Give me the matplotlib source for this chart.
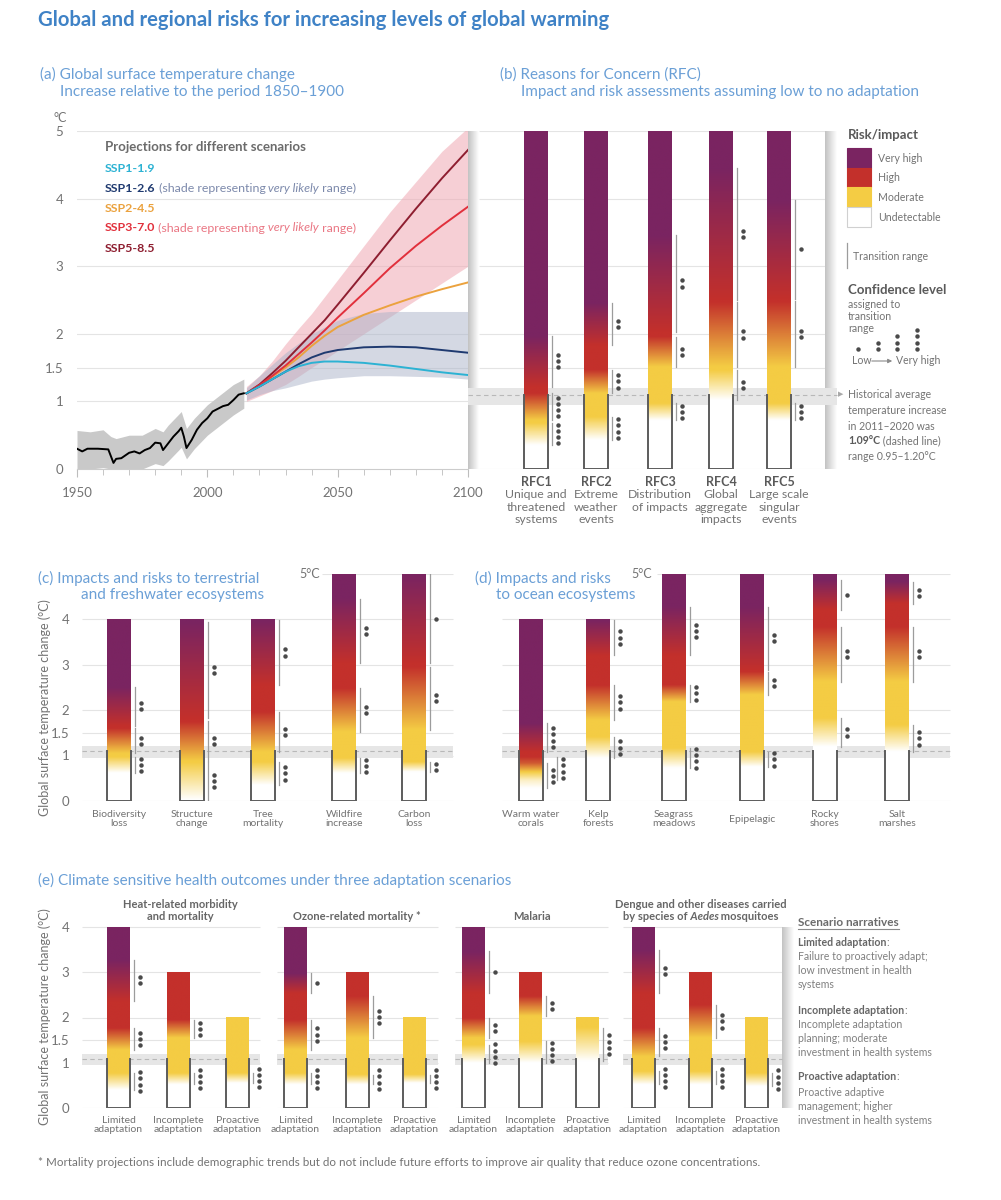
import numpy as np
import matplotlib
matplotlib.use('Agg')
import matplotlib.pyplot as plt
from matplotlib.colors import LinearSegmentedColormap
from matplotlib.patches import Rectangle

plt.rcParams['font.family'] = ['Lato', 'DejaVu Sans']

# ---- data: panel (a) ----
years_hist = [1950, 1952, 1954, 1958, 1962, 1964, 1965, 1967, 1970, 1972, 1974, 1976, 1978,
              1980, 1982, 1983, 1985, 1987, 1989, 1990, 1991, 1992, 1994, 1996, 1998, 2000,
              2002, 2004, 2006, 2008, 2010, 2012, 2014]
temp_hist = [0.30, 0.26, 0.30, 0.30, 0.29, 0.09, 0.15, 0.16, 0.24, 0.26, 0.23, 0.28, 0.31,
             0.39, 0.38, 0.28, 0.38, 0.48, 0.56, 0.61, 0.48, 0.31, 0.43, 0.58, 0.68, 0.75,
             0.85, 0.89, 0.93, 0.95, 1.02, 1.10, 1.12]
band_years = [1950, 1955, 1960, 1963, 1965, 1970, 1975, 1980, 1983, 1985, 1990, 1992, 1995,
              2000, 2005, 2010, 2014]
band_lo = [0.0, 0.0, 0.02, 0.0, 0.0, 0.0, 0.0, 0.08, 0.05, 0.12, 0.32, 0.15, 0.30,
           0.50, 0.65, 0.80, 0.90]
band_hi = [0.57, 0.55, 0.58, 0.48, 0.45, 0.50, 0.50, 0.60, 0.55, 0.65, 0.85, 0.60, 0.75,
           0.95, 1.10, 1.25, 1.33]

proj_years = [2015, 2020, 2025, 2030, 2035, 2040, 2045, 2050, 2060, 2070, 2080, 2090, 2100]
ssp119 = [1.12, 1.22, 1.33, 1.44, 1.52, 1.57, 1.59, 1.59, 1.57, 1.53, 1.48, 1.43, 1.39]
ssp126 = [1.12, 1.22, 1.33, 1.44, 1.55, 1.65, 1.72, 1.76, 1.80, 1.81, 1.80, 1.76, 1.72]
ssp245 = [1.12, 1.23, 1.37, 1.50, 1.65, 1.82, 1.97, 2.10, 2.28, 2.42, 2.55, 2.66, 2.76]
ssp370 = [1.12, 1.24, 1.38, 1.53, 1.70, 1.87, 2.05, 2.24, 2.60, 2.97, 3.30, 3.60, 3.88]
ssp585 = [1.12, 1.25, 1.42, 1.60, 1.80, 2.00, 2.20, 2.43, 2.90, 3.38, 3.85, 4.30, 4.72]
ssp126_lo = [1.02, 1.10, 1.16, 1.20, 1.25, 1.30, 1.33, 1.35, 1.38, 1.38, 1.37, 1.36, 1.33]
ssp126_hi = [1.20, 1.38, 1.55, 1.72, 1.86, 2.00, 2.10, 2.20, 2.30, 2.33, 2.33, 2.33, 2.33]
ssp370_lo = [1.00, 1.08, 1.16, 1.25, 1.37, 1.50, 1.62, 1.75, 2.00, 2.25, 2.50, 2.75, 3.00]
ssp370_hi = [1.22, 1.38, 1.60, 1.85, 2.08, 2.30, 2.55, 2.80, 3.30, 3.80, 4.25, 4.70, 5.05]

# ---- data: embers, transitions are (low, high, confidence dots) ----
rfc_names = ['RFC1', 'RFC2', 'RFC3', 'RFC4', 'RFC5']
rfc_labels = [['Unique and', 'threatened', 'systems'], ['Extreme', 'weather', 'events'],
              ['Distribution', 'of impacts'], ['Global', 'aggregate', 'impacts'],
              ['Large scale', 'singular', 'events']]
rfc_trans = [[(0.35, 0.68, 4), (0.72, 1.12, 4), (1.22, 1.97, 3)],
             [(0.43, 0.77, 4), (1.12, 1.47, 3), (1.83, 2.46, 2)],
             [(0.72, 0.97, 3), (1.51, 1.96, 2), (2.03, 3.46, 2)],
             [(1.02, 1.46, 2), (1.51, 2.47, 2), (2.50, 4.45, 2)],
             [(0.72, 0.97, 3), (1.51, 2.48, 2), (2.52, 3.98, 1)]]

terr_labels = ['Biodiversity\nloss', 'Structure\nchange', 'Tree\nmortality',
               'Wildfire\nincrease', 'Carbon\nloss']
terr_tops = [4, 4, 4, 5, 5]
terr_trans = [[(0.62, 0.97, 3), (1.05, 1.60, 2), (1.65, 2.51, 2)],
              [(0.02, 0.85, 3), (0.88, 1.75, 2), (1.82, 3.94, 2)],
              [(0.35, 0.86, 3), (1.08, 1.96, 2), (2.55, 3.98, 2)],
              [(0.61, 0.94, 3), (1.52, 2.48, 2), (3.03, 4.45, 2)],
              [(0.64, 0.86, 2), (1.56, 2.95, 2), (3.03, 4.98, 1)]]

ocean_labels = ['Warm water\ncorals', 'Kelp\nforests', 'Seagrass\nmeadows', 'Epipelagic',
                'Rocky\nshores', 'Salt\nmarshes']
ocean_tops = [4, 4, 5, 5, 5, 5]
ocean_trans = [[(0.28, 0.83, 3), (0.46, 0.97, 4), (1.08, 1.71, 4)],
               [(0.94, 1.41, 3), (1.78, 2.55, 3), (3.20, 3.98, 3)],
               [(0.72, 1.16, 4), (2.18, 2.55, 3), (3.20, 4.27, 3)],
               [(0.75, 1.08, 3), (2.33, 2.84, 2), (2.88, 4.27, 2)],
               [(1.19, 1.82, 2), (2.62, 3.83, 2), (4.20, 4.86, 1)],
               [(1.08, 1.67, 3), (2.62, 3.83, 2), (4.34, 4.82, 2)]]

health_titles = [['Heat-related morbidity', 'and mortality'], ['Ozone-related mortality *'],
                 ['Malaria'], ['Dengue and other diseases carried', 'by species of Aedes mosquitoes']]
health_scen = ['Limited\nadaptation', 'Incomplete\nadaptation', 'Proactive\nadaptation']
health_tops = [4, 3, 2]
health_trans = [
    [[(0.40, 0.77, 4), (1.29, 1.77, 3), (2.36, 3.28, 2)],
     [(0.52, 0.77, 4), (1.55, 1.95, 3)],
     [(0.55, 0.77, 4)]],
    [[(0.52, 0.77, 4), (1.29, 1.95, 3), (2.54, 2.98, 1)],
     [(0.52, 0.74, 4), (1.55, 2.47, 3)],
     [(0.55, 0.74, 4)]],
    [[(1.00, 1.40, 4), (1.55, 1.99, 2), (2.54, 3.46, 1)],
     [(1.00, 1.47, 4), (2.03, 2.47, 2)],
     [(1.03, 1.77, 4)]],
    [[(0.52, 0.81, 4), (1.14, 1.77, 3), (2.54, 3.50, 2)],
     [(0.52, 0.81, 4), (1.55, 2.28, 3)],
     [(0.48, 0.77, 4)]],
]
hist_mean, hist_lo, hist_hi = 1.09, 0.95, 1.20

# ---- layout (figure pixels) ----
W, H = 1001, 1200
rfc_x = [524, 584, 648, 709, 767]
terr_x = [107, 180, 251, 332, 402]
ocean_x = [519, 586, 662, 740, 813, 885]
health_groups = [(82, 260, [107, 167, 226]), (277, 438, [284, 346, 403]),
                 (455, 608, [462, 519, 576]), (623, 782, [632, 689, 745])]

TITLE = '#3f82c6'
PANEL = '#6a9fd6'
GRID = '#e4e4e4'
GREY = '#737373'
DARK = '#5a5a5a'
VH, HI, MO = '#7a2461', '#c3302b', '#f4cc44'
EMBER = LinearSegmentedColormap.from_list('ember', ['white', MO, HI, VH])
SHADE = LinearSegmentedColormap.from_list('shade', ['white', '#c2c2c2'])

PT = 11          # panel titles
LAB = 7.5        # ember labels
SM = 7.6         # legend / narrative text

fig = plt.figure(figsize=(W / 100, H / 100), dpi=100)
rend = fig.canvas.get_renderer()


def box(l, t, r, b):
    return [l / W, 1 - b / H, (r - l) / W, (b - t) / H]


def txt(x, y, s, **kw):
    kw.setdefault('va', 'center')
    return fig.text(x / W, 1 - y / H, s, **kw)


def runs(x, y, parts, **common):
    for s, kw in parts:
        t = txt(x, y, s, **{**common, **kw})
        x += t.get_window_extent(rend).width
    return x


def shadow(ax, x0, x1, y0, y1):
    g = np.linspace(1, 0, 60)[None, :]
    ax.imshow(g, extent=[x0, x1, y0, y1], cmap=SHADE, vmin=0, vmax=1,
              aspect='auto', origin='lower', zorder=0.5)


def hist_band(ax, x0, x1):
    ax.fill_between([x0, x1], hist_lo, hist_hi, color='#e6e6e6', lw=0, zorder=1)
    ax.hlines(hist_mean, x0, x1, colors='#b8b8b8', linestyles=(0, (4, 3)), lw=0.8, zorder=1.5)


def ember(ax, xl, top, trans, ppd, width=24):
    xr = xl + width
    t = np.linspace(0, top, 600)
    lev = np.zeros_like(t)
    for lo, hi, n in trans:
        lev += np.clip((t - lo) / (hi - lo), 0, 1)
    ax.imshow(lev[:, None], extent=[xl, xr, 0, top], origin='lower', aspect='auto',
              cmap=EMBER, vmin=0, vmax=3, interpolation='bilinear', zorder=3)
    ax.plot([xl, xl, xr, xr], [hist_mean, 0, 0, hist_mean], color='#5c5c5c', lw=1.4,
            zorder=4, solid_joinstyle='miter')
    prev = -1
    for lo, hi, n in trans:
        off = 10 if lo < prev else 0
        prev = hi
        hc = min(hi, top)
        lx = xr + 4 + off
        ax.plot([lx, lx], [lo, hc], color='#9c9c9c', lw=0.9, zorder=4)
        ys = (lo + hc) / 2 + (np.arange(n) - (n - 1) / 2) * 6.2 / ppd
        ax.plot([lx + 5.5] * n, ys, 'o', ms=3.2, color='#4a4a4a', mec='none', zorder=5)


# ---- title ----
txt(38, 20, 'Global and regional risks for increasing levels of global warming',
    fontsize=14.6, fontweight='bold', color=TITLE)

# ---- panel (a) ----
txt(40, 74, '(a) Global surface temperature change', fontsize=PT, color=PANEL)
txt(60, 92, 'Increase relative to the period 1850–1900', fontsize=PT, color=PANEL)
txt(67, 118, '°C', ha='right', fontsize=9, color=GREY)

ax_a = fig.add_axes(box(77, 131, 468, 469))
for v in [1, 1.5, 2, 3, 4, 5]:
    ax_a.axhline(v, color=GRID, lw=0.8, zorder=0)
ax_a.fill_between(band_years, band_lo, band_hi, color='#c9c9c9', lw=0, zorder=1)
ax_a.plot(years_hist, temp_hist, color='black', lw=1.4, zorder=3)
ax_a.fill_between(proj_years, ssp370_lo, ssp370_hi, color='#f0a9b3', alpha=0.55, lw=0, zorder=1)
ax_a.fill_between(proj_years, ssp126_lo, ssp126_hi, color='#aab3c9', alpha=0.5, lw=0, zorder=1)
ssp_cols = {'SSP1-1.9': '#2cb2d3', 'SSP1-2.6': '#1f3a70', 'SSP2-4.5': '#eba23e',
            'SSP3-7.0': '#e1303c', 'SSP5-8.5': '#8e1e30'}
for key, vals in [('SSP2-4.5', ssp245), ('SSP5-8.5', ssp585), ('SSP3-7.0', ssp370),
                  ('SSP1-2.6', ssp126), ('SSP1-1.9', ssp119)]:
    ax_a.plot(proj_years, vals, color=ssp_cols[key], lw=1.4, zorder=3)
ax_a.set_xlim(1950, 2100)
ax_a.set_ylim(0, 5)
for s in ['top', 'right', 'left']:
    ax_a.spines[s].set_visible(False)
ax_a.spines['bottom'].set_color('#cccccc')
ax_a.set_yticks([0, 1, 1.5, 2, 3, 4, 5])
ax_a.set_yticklabels(['0', '1', '1.5', '2', '3', '4', '5'])
ax_a.tick_params(axis='y', length=0, pad=10, labelsize=9.5, labelcolor=GREY)
ax_a.set_xticks([1950, 2000, 2050, 2100])
ax_a.set_xticks(range(1950, 2101, 10), minor=True)
ax_a.tick_params(axis='x', which='both', color='#bdbdbd', labelsize=9.5, labelcolor=GREY, pad=7)
ax_a.tick_params(axis='x', which='major', length=6)
ax_a.tick_params(axis='x', which='minor', length=4)
ax_a.patch.set_alpha(0)

txt(105, 147, 'Projections for different scenarios', fontsize=9.5, fontweight='bold', color='#6b6b6b')
lkw = dict(fontsize=8.9)
txt(105, 168, 'SSP1-1.9', fontweight='bold', color=ssp_cols['SSP1-1.9'], **lkw)
runs(105, 188, [('SSP1-2.6', dict(fontweight='bold', color=ssp_cols['SSP1-2.6'])),
                (' (shade representing', dict(color='#7c89ab')),
                (' very likely', dict(color='#7c89ab', style='italic')),
                (' range)', dict(color='#7c89ab'))], **lkw)
txt(105, 208, 'SSP2-4.5', fontweight='bold', color=ssp_cols['SSP2-4.5'], **lkw)
runs(105, 228, [('SSP3-7.0', dict(fontweight='bold', color=ssp_cols['SSP3-7.0'])),
                (' (shade representing', dict(color='#ea7784')),
                (' very likely', dict(color='#ea7784', style='italic')),
                (' range)', dict(color='#ea7784'))], **lkw)
txt(105, 248, 'SSP5-8.5', fontweight='bold', color=ssp_cols['SSP5-8.5'], **lkw)

# ---- panel (b) ----
txt(500, 75, '(b) Reasons for Concern (RFC)', fontsize=PT, color=PANEL)
txt(521, 92, 'Impact and risk assessments assuming low to no adaptation', fontsize=PT, color=PANEL)
ax_b = fig.add_axes(box(468, 131, 845, 469))
ax_b.axis('off')
shadow(ax_b, 468, 479, 0, 5)
shadow(ax_b, 825, 837, 0, 5)
ax_b.hlines([0, 1, 1.5, 2, 3, 4, 5], 479, 825, colors=GRID, lw=0.8, zorder=0)
hist_band(ax_b, 468, 837)
for i, xl in enumerate(rfc_x):
    ember(ax_b, xl, 5, rfc_trans[i], 67.6)
    txt(xl + 12, 482, rfc_names[i], ha='center', fontsize=9, fontweight='bold', color=DARK)
    for j, line in enumerate(rfc_labels[i]):
        txt(xl + 12, 495 + 12.3 * j, line, ha='center', fontsize=8.8, color=GREY)
ax_b.set_xlim(468, 845)
ax_b.set_ylim(0, 5)

# ---- panel (c) ----
txt(38, 578, '(c) Impacts and risks to terrestrial', fontsize=PT, color=PANEL)
txt(81, 595, 'and freshwater ecosystems', fontsize=PT, color=PANEL)
txt(45, 708, 'Global surface temperature change (°C)', rotation=90, ha='center',
    fontsize=9, color=GREY)
ax_c = fig.add_axes(box(82, 573.5, 455, 801))
for s in ax_c.spines.values():
    s.set_visible(False)
ax_c.set_xticks([])
ax_c.set_yticks([0, 1, 1.5, 2, 3, 4])
ax_c.set_yticklabels(['0', '1', '1.5', '2', '3', '4'])
ax_c.tick_params(axis='y', length=0, pad=9, labelsize=9.5, labelcolor=GREY)
ax_c.hlines([0, 1, 1.5, 2, 3, 4], 82, 453, colors=GRID, lw=0.8, zorder=0)
ax_c.hlines(5, 322, 453, colors=GRID, lw=0.8, zorder=0)
hist_band(ax_c, 82, 453)
for i, xl in enumerate(terr_x):
    ember(ax_c, xl, terr_tops[i], terr_trans[i], 45.5)
    txt(xl + 12, 819, terr_labels[i], ha='center', fontsize=LAB, color=GREY, linespacing=1.1)
ax_c.set_xlim(82, 455)
ax_c.set_ylim(0, 5)
ax_c.patch.set_alpha(0)
txt(320, 574, '5°C', ha='right', fontsize=9, color=GREY)

# ---- panel (d) ----
txt(475, 578, '(d) Impacts and risks', fontsize=PT, color=PANEL)
txt(496, 595, 'to ocean ecosystems', fontsize=PT, color=PANEL)
ax_d = fig.add_axes(box(500, 573.5, 952, 801))
ax_d.axis('off')
ax_d.hlines([0, 1, 1.5, 2, 3, 4], 502, 950, colors=GRID, lw=0.8, zorder=0)
ax_d.hlines(5, 657, 950, colors=GRID, lw=0.8, zorder=0)
hist_band(ax_d, 502, 950)
for i, xl in enumerate(ocean_x):
    ember(ax_d, xl, ocean_tops[i], ocean_trans[i], 45.5)
    txt(xl + 12, 819, ocean_labels[i], ha='center', fontsize=LAB, color=GREY, linespacing=1.1)
ax_d.set_xlim(500, 952)
ax_d.set_ylim(0, 5)
txt(652, 574, '5°C', ha='right', fontsize=9, color=GREY)

# ---- panel (e) ----
txt(38, 880, '(e) Climate sensitive health outcomes under three adaptation scenarios',
    fontsize=PT, color=PANEL)
txt(45, 1017, 'Global surface temperature change (°C)', rotation=90, ha='center',
    fontsize=9, color=GREY)
ax_e = fig.add_axes(box(82, 1108 - 4.2 * 45.25, 800, 1108))
for s in ax_e.spines.values():
    s.set_visible(False)
ax_e.set_xticks([])
ax_e.set_yticks([0, 1, 1.5, 2, 3, 4])
ax_e.set_yticklabels(['0', '1', '1.5', '2', '3', '4'])
ax_e.tick_params(axis='y', length=0, pad=9, labelsize=9.5, labelcolor=GREY)
shadow(ax_e, 782, 794, 0, 4)
for g, (gl, gr, xs) in enumerate(health_groups):
    ax_e.hlines([0, 1, 1.5, 2, 3, 4], gl, gr, colors=GRID, lw=0.8, zorder=0)
    hist_band(ax_e, gl, gr)
    for k, xl in enumerate(xs):
        ember(ax_e, xl, health_tops[k], health_trans[g][k], 45.25, width=23)
        txt(xl + 11.5, 1125, health_scen[k], ha='center', fontsize=LAB, color=GREY, linespacing=1.0)
ax_e.set_xlim(82, 800)
ax_e.set_ylim(0, 4.2)
ax_e.patch.set_alpha(0)

tkw = dict(fontsize=8, fontweight='bold', color='#666666', ha='center')
txt(180, 905, health_titles[0][0], **tkw)
txt(180, 917, health_titles[0][1], **tkw)
txt(357, 917, health_titles[1][0], **tkw)
txt(532, 917, health_titles[2][0], **tkw)
txt(701, 905, health_titles[3][0], **tkw)
# second dengue line with italic genus name, centred by measuring
pieces = [('by species of', {}), (' Aedes', dict(style='italic')), (' mosquitoes', {})]
tmp = [fig.text(0, 0, s, fontsize=8, fontweight='bold', **kw) for s, kw in pieces]
wsum = sum(t.get_window_extent(rend).width for t in tmp)
for t in tmp:
    t.remove()
runs(701 - wsum / 2, 917, pieces, fontsize=8, fontweight='bold', color='#666666')

# scenario narratives
nx = 798
t = txt(nx, 922, 'Scenario narratives', fontsize=8.5, fontweight='bold', color='#6b6b6b')
uw = t.get_window_extent(rend).width
nkw = dict(fontsize=SM, color='#808080')
runs(nx, 943, [('Limited adaptation', dict(fontweight='bold', color='#666666')), (':', {})], **nkw)
for j, s in enumerate(['Failure to proactively adapt;', 'low investment in health', 'systems']):
    txt(nx, 957 + 14 * j, s, **nkw)
runs(nx, 1010, [('Incomplete adaptation', dict(fontweight='bold', color='#666666')), (':', {})], **nkw)
for j, s in enumerate(['Incomplete adaptation', 'planning; moderate', 'investment in health systems']):
    txt(nx, 1025 + 14 * j, s, **nkw)
runs(nx, 1077, [('Proactive adaptation', dict(fontweight='bold', color='#666666')), (':', {})], **nkw)
for j, s in enumerate(['Proactive adaptive', 'management; higher', 'investment in health systems']):
    txt(nx, 1092 + 14 * j, s, **nkw)

txt(38, 1162, '* Mortality projections include demographic trends but do not include future '
    'efforts to improve air quality that reduce ozone concentrations.', fontsize=8.4, color=GREY)

# ---- overlay in pixel coordinates for legend glyphs ----
ov = fig.add_axes([0, 0, 1, 1])
ov.set_xlim(0, W)
ov.set_ylim(H, 0)
ov.axis('off')
ov.patch.set_alpha(0)
ov.plot([nx, nx + uw], [929, 929], color='#8a8a8a', lw=0.8)

lx = 848
txt(lx, 135, 'Risk/impact', fontsize=9.5, fontweight='bold', color=DARK)
for j, (c, lab) in enumerate([(VH, 'Very high'), (HI, 'High'), (MO, 'Moderate'), ('white', 'Undetectable')]):
    y0 = 148 + 19.7 * j
    ov.add_patch(Rectangle((847, y0), 24, 19.7, fc=c, ec='#d0d0d0' if c == 'white' else c, lw=0.8))
    txt(878, y0 + 10, lab, fontsize=SM, color=GREY)
ov.plot([847, 847], [243, 268], color='#9c9c9c', lw=0.9)
txt(853, 256, 'Transition range', fontsize=SM, color=GREY)
txt(lx, 290, 'Confidence level', fontsize=9.5, fontweight='bold', color=DARK)
for j, s in enumerate(['assigned to', 'transition', 'range']):
    txt(lx, 304 + 12 * j, s, fontsize=SM, color=GREY)
for k, n in enumerate([1, 2, 3, 4]):
    ov.plot([858 + 19.7 * k] * n, 349 - np.arange(n) * 6.3, 'o', ms=3.2, color='#4a4a4a', mec='none')
txt(852, 361, 'Low', fontsize=SM, color=GREY)
ov.annotate('', xy=(895, 361), xytext=(869, 361),
            arrowprops=dict(arrowstyle='-|>', color='#8a8a8a', lw=0.8, mutation_scale=6))
txt(896, 361, 'Very high', fontsize=SM, color=GREY)
txt(838, 394, '▶', family='DejaVu Sans', fontsize=5, color='#a8a8a8')
hkw = dict(fontsize=SM, color=GREY)
txt(lx, 394, 'Historical average', **hkw)
txt(lx, 410, 'temperature increase', **hkw)
txt(lx, 426, 'in 2011–2020 was', **hkw)
runs(lx, 441, [('1.09°C', dict(fontweight='bold', color=DARK)), (' (dashed line)', {})], **hkw)
txt(lx, 457, 'range 0.95–1.20°C', **hkw)

fig.savefig('out.png', dpi=100)
